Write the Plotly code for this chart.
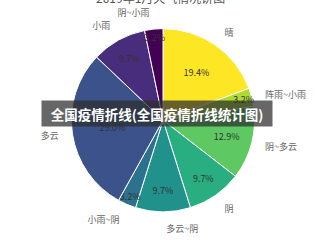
import plotly.graph_objects as go

labels = ["晴", "阵雨~小雨", "阴~多云", "阴", "多云~阴", "小雨~阴", "多云", "小雨", "阴~小雨"]
days = [6, 1, 4, 3, 3, 1, 9, 3, 1]
colors = ["#fde725", "#addc30", "#5ec962", "#28ae80", "#21918c", "#2c728e", "#3b528b", "#472d7b", "#440154"]
title_text = "2019年1月天气情况饼图"
banner_text = "全国疫情折线(全国疫情折线统计图)"

FONT = "Noto Sans CJK SC, Noto Sans, sans-serif"
W, H = 320, 240
cx, cy, r = 163, 114, 96  # center (from bottom) and radius in px
r2 = 107

def dom(rad):
    return dict(x=[(cx - rad) / W, (cx + rad) / W], y=[(cy - rad) / H, (cy + rad) / H])

fig = go.Figure()
fig.add_trace(go.Pie(
    labels=labels, values=days, sort=False, direction="clockwise", rotation=0,
    marker=dict(colors=colors, line=dict(color="white", width=1)),
    textinfo="percent", texttemplate="%{percent:.1%}", textposition="inside",
    insidetextorientation="horizontal",
    insidetextfont=dict(family=FONT, size=9, color="#333"),
    domain=dom(r), showlegend=False,
))
fig.add_trace(go.Pie(
    labels=labels, values=days, sort=False, direction="clockwise", rotation=0,
    marker=dict(colors=["rgba(0,0,0,0)"] * len(labels), line=dict(width=0)),
    textinfo="label", textposition="outside",
    outsidetextfont=dict(family=FONT, size=9, color="#666"),
    domain=dom(r2), showlegend=False, hoverinfo="skip",
))

fig.add_annotation(text=title_text, xref="paper", yref="paper", x=0.5, y=1.0,
                   yanchor="middle", yshift=3, showarrow=False,
                   font=dict(family=FONT, size=12, color="#555"))
fig.add_annotation(text="<b>" + banner_text + "</b>", xref="paper", yref="paper",
                   x=157 / W, y=121.5 / H, showarrow=False, width=228, height=23,
                   bgcolor="rgba(45,45,45,0.72)",
                   font=dict(family=FONT, size=13.5, color="white"))

fig.update_layout(width=W, height=H, margin=dict(l=0, r=0, t=0, b=0),
                  paper_bgcolor="white", plot_bgcolor="white",
                  uniformtext=dict(minsize=9, mode="show"))
fig.write_html("out.html")
